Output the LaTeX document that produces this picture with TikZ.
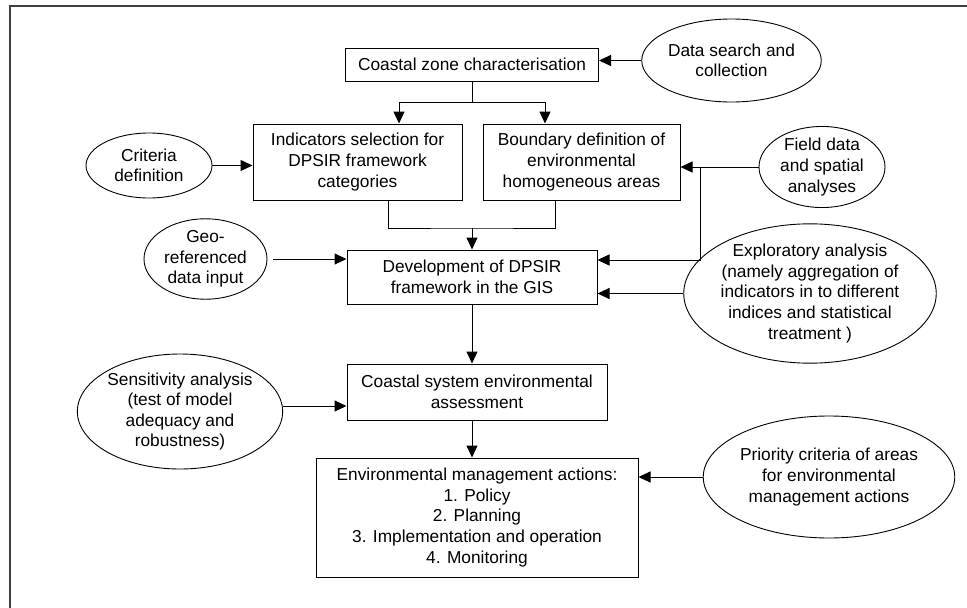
\documentclass[tikz,border=0pt]{standalone}
\usepackage{fontspec}
\setmainfont{Liberation Sans}
\usetikzlibrary{arrows.meta, positioning, shapes.geometric}

\begin{document}
\begin{tikzpicture}[
    x=1pt, y=-1pt,
    font=\fontsize{17.3}{20.6}\selectfont,
    box/.style={draw, line width=1pt, align=center, inner sep=0pt},
    oval/.style={draw, ellipse, line width=0.9pt, align=center, inner sep=0pt},
    arr/.style={-{Triangle[length=12pt, width=11pt]}, line width=1pt}
  ]
    \useasboundingbox (0,0) rectangle (967,608);
    \clip (0,0) rectangle (967,608);
    \draw[line width=1.2pt, black!75] (10,6) rectangle (990,630);

    \node[box, minimum width=253pt, minimum height=33pt] (coast) at (472,64.5) {Coastal zone characterisation};
    \node[oval, minimum width=149pt, minimum height=83pt] (data) at (731.5,60.5) {Data search and\\collection};
    \node[box, minimum width=209pt, minimum height=76pt] (indic) at (357.5,162) {Indicators selection for\\DPSIR framework\\categories};
    \node[box, minimum width=197pt, minimum height=76pt] (bound) at (581.5,162) {Boundary definition of\\environmental\\homogeneous areas};
    \node[oval, minimum width=126pt, minimum height=65pt] (crit) at (149,165.5) {Criteria\\definition};
    \node[oval, minimum width=126pt, minimum height=80pt] (field) at (822,167) {Field data\\and spatial\\analyses};
    \node[box, minimum width=250pt, minimum height=54pt] (devel) at (472,277) {Development of DPSIR\\framework in the GIS};
    \node[oval, minimum width=123pt, minimum height=78pt] (geo) at (205.5,259) {Geo-\\referenced\\data input};
    \node[oval, minimum width=240pt, minimum height=137pt] (expl) at (810,293.5) {Exploratory analysis\\(namely aggregation of\\indicators in to different\\indices and statistical\\treatment )};
    \node[box, minimum width=260pt, minimum height=56pt] (assess) at (477,392) {Coastal system environmental\\assessment};
    \node[oval, minimum width=188pt, minimum height=115pt] (sens) at (180,411.5) {Sensitivity analysis\\(test of model\\adequacy and\\robustness)};
    \node[box, minimum width=322pt, minimum height=119pt] (env) at (477,517.5) {Environmental management actions:\\1. Policy\\2. Planning\\3. Implementation and operation\\4. Monitoring};
    \node[oval, minimum width=216pt, minimum height=122pt] (prio) at (829,477) {Priority criteria of areas\\for environmental\\management actions};

    \draw[arr] (data.west) -- (data.west -| coast.east);
    \draw (coast.south) -- ++(0,21) coordinate (split);
    \draw[arr] (split) -| ([xshift=41.5pt]indic.north);
    \draw[arr] (split) -| ([xshift=-36.5pt]bound.north);
    \draw[arr] (crit.east) -- (crit.east -| indic.west);
    \draw[arr] (field.west) -- (field.west -| bound.east);
    \path (bound.east |- field.west) ++(20,0) coordinate (tap);
    \draw[arr] (tap) |- ([yshift=17pt]devel.east);
    \coordinate (merge) at (472,228);
    \draw ([xshift=30.5pt]indic.south) |- (merge) -| ([xshift=-26.5pt]bound.south);
    \draw[arr] (merge) -- (devel.north);
    \draw[arr, shorten <=6pt] (geo.east) -- (geo.east -| devel.west);
    \draw[arr] (expl.west) -- (expl.west -| devel.east);
    \draw[arr] (devel.south) -- (devel.south |- assess.north);
    \draw[arr] ([yshift=5.5pt]sens.east) -- ([yshift=5.5pt]sens.east -| assess.west);
    \draw[arr] (devel.south |- assess.south) -- (devel.south |- env.north);
    \draw[arr] (prio.west) -- (prio.west -| env.east);
  \end{tikzpicture}
\end{document}
